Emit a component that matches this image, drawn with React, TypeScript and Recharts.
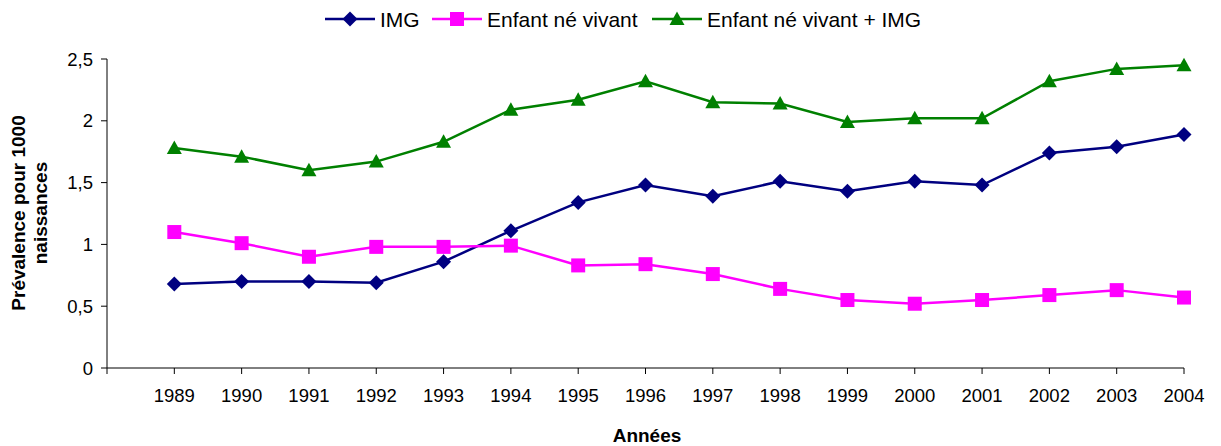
import { LineChart, Line, XAxis, YAxis } from "recharts";

const years = [1989, 1990, 1991, 1992, 1993, 1994, 1995, 1996, 1997, 1998, 1999, 2000, 2001, 2002, 2003, 2004];
const img = [0.68, 0.7, 0.7, 0.69, 0.86, 1.11, 1.34, 1.48, 1.39, 1.51, 1.43, 1.51, 1.48, 1.74, 1.79, 1.89];
const enfantVivant = [1.1, 1.01, 0.9, 0.98, 0.98, 0.99, 0.83, 0.84, 0.76, 0.64, 0.55, 0.52, 0.55, 0.59, 0.63, 0.57];
const enfantPlusImg = [1.78, 1.71, 1.6, 1.67, 1.83, 2.09, 2.17, 2.32, 2.15, 2.14, 1.99, 2.02, 2.02, 2.32, 2.42, 2.45];

// empty slot before the first year, as in the original
const blankYear = 1988;
const xTicks = [blankYear, ...years];
const yTicks = [0, 0.5, 1, 1.5, 2, 2.5];

const NAVY = "#000080";
const MAGENTA = "#FF00FF";
const GREEN = "#008000";
const FONT = "'Liberation Sans', Arial, sans-serif";

const data = years.map((year, i) => ({
  year,
  img: img[i],
  vivant: enfantVivant[i],
  total: enfantPlusImg[i],
}));

const diamond = (cx: number, cy: number, r = 7.5) =>
  `${cx},${cy - r} ${cx + r},${cy} ${cx},${cy + r} ${cx - r},${cy}`;
const triangle = (cx: number, cy: number) =>
  `${cx},${cy - 7.5} ${cx + 7.5},${cy + 6} ${cx - 7.5},${cy + 6}`;

const renderDiamond = (p: any) =>
  p.cx == null ? null : <polygon key={`d-${p.index}`} points={diamond(p.cx, p.cy)} fill={NAVY} />;
const renderSquare = (p: any) =>
  p.cx == null ? null : (
    <rect key={`s-${p.index}`} x={p.cx - 7} y={p.cy - 7} width={14} height={14} fill={MAGENTA} />
  );
const renderTriangle = (p: any) =>
  p.cx == null ? null : <polygon key={`t-${p.index}`} points={triangle(p.cx, p.cy)} fill={GREEN} />;

const tickStyle = { fontSize: 18.5, fill: "#000", fontFamily: FONT };

export default function App() {
  return (
    <div style={{ position: "absolute", left: 0, top: 0, width: 1221, height: 446, background: "#fff", fontFamily: FONT }}>
      <LineChart width={1221} height={446} data={data} margin={{ top: 59, right: 37, bottom: 0, left: 0 }}>
        <XAxis
          dataKey="year"
          type="number"
          domain={[blankYear, 2004]}
          ticks={xTicks}
          interval={0}
          tickFormatter={(v: number) => (v === blankYear ? "" : String(v))}
          height={78}
          tick={tickStyle}
          tickSize={6}
          tickMargin={15}
          axisLine={{ stroke: "#000" }}
          tickLine={{ stroke: "#000" }}
        />
        <YAxis
          type="number"
          domain={[0, 2.5]}
          ticks={yTicks}
          interval={0}
          tickFormatter={(v: number) => String(v).replace(".", ",")}
          width={107}
          tick={tickStyle}
          tickSize={6}
          tickMargin={8}
          axisLine={{ stroke: "#000" }}
          tickLine={{ stroke: "#000" }}
        />
        <Line dataKey="img" stroke={NAVY} strokeWidth={2.5} dot={renderDiamond} activeDot={false} isAnimationActive={false} />
        <Line dataKey="vivant" stroke={MAGENTA} strokeWidth={2.5} dot={renderSquare} activeDot={false} isAnimationActive={false} />
        <Line dataKey="total" stroke={GREEN} strokeWidth={2.5} dot={renderTriangle} activeDot={false} isAnimationActive={false} />
      </LineChart>
      <svg width={1221} height={446} style={{ position: "absolute", left: 0, top: 0, pointerEvents: "none" }}>
        <g fontFamily={FONT} fontSize={21} fill="#000">
          <line x1={325} y1={19} x2={375} y2={19} stroke={NAVY} strokeWidth={2.5} />
          <polygon points={diamond(350, 19)} fill={NAVY} />
          <text x={380} y={26.5}>IMG</text>
          <line x1={432} y1={19} x2={482} y2={19} stroke={MAGENTA} strokeWidth={2.5} />
          <rect x={450} y={12} width={14} height={14} fill={MAGENTA} />
          <text x={487} y={26.5}>Enfant né vivant</text>
          <line x1={652} y1={19} x2={702} y2={19} stroke={GREEN} strokeWidth={2.5} />
          <polygon points={triangle(677, 19)} fill={GREEN} />
          <text x={707} y={26.5}>Enfant né vivant + IMG</text>
        </g>
        <g fontFamily={FONT} fontSize={19} fontWeight="bold" fill="#000" textAnchor="middle">
          <text transform="translate(25,213) rotate(-90)">Prévalence pour 1000</text>
          <text transform="translate(47,213) rotate(-90)">naissances</text>
          <text x={647} y={442}>Années</text>
        </g>
      </svg>
    </div>
  );
}
